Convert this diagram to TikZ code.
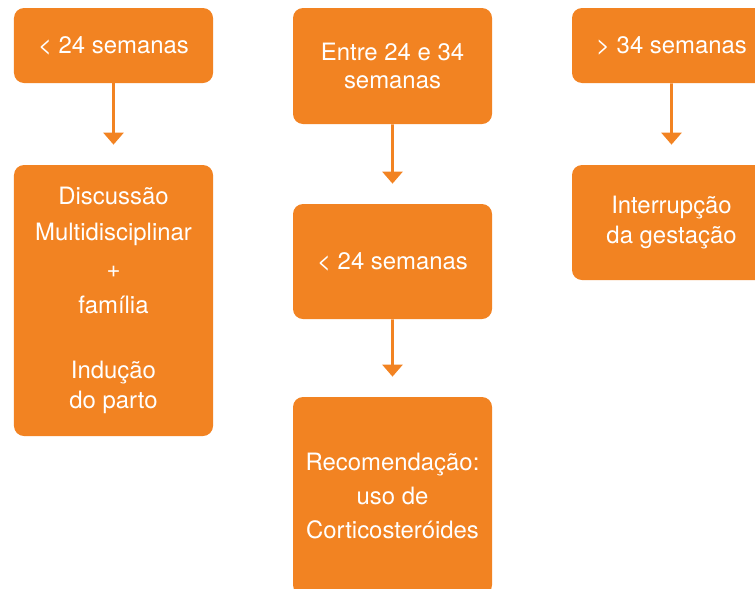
\documentclass[tikz,border=0pt]{standalone}
\usepackage{fontspec}
\setmainfont{TeX Gyre Heros}
\usetikzlibrary{arrows.meta}
\definecolor{laranja}{RGB}{242,131,34}

\begin{document}
\begin{tikzpicture}[scale=0.2]
	\tikzstyle{every node}+=[inner sep=0pt]
	\tikzstyle{etapa}=[fill=laranja, rounded corners=0.2cm, text=white, minimum width=3.98cm, align=center, font=\fontsize{13.6}{20.6}\selectfont]
	\tikzstyle{seta}=[laranja, line width=1.5pt, -{Triangle[width=0.4cm,length=0.24cm]}, shorten >=0.4cm]
	\clip (0,0) rectangle (75.5,-58.8);
	\node [etapa, minimum height=1.5cm] (menor) at (11.35,-4.55) {< 24 semanas};
	\node [etapa, minimum height=5.42cm] (discussao) at (11.35,-30.05) {Discussão\\Multidisciplinar\\+\\família\\[16.5pt]Indução\\[-3.4pt]do parto};
	\node [etapa, minimum height=2.32cm, font=\fontsize{13.6}{16.4}\selectfont] (entre) at (39.25,-6.6) {Entre 24 e 34\\semanas};
	\node [etapa, minimum height=2.3cm] (menorb) at (39.25,-26.15) {< 24 semanas};
	\node [etapa, minimum height=3.96cm, font=\fontsize{13.6}{19.6}\selectfont] (recom) at (39.25,-49.6) {Recomendação:\\uso de\\Corticosteróides};
	\node [etapa, minimum height=1.5cm] (maior) at (67.15,-4.55) {> 34 semanas};
	\node [etapa, minimum height=2.3cm, font=\fontsize{13.6}{17}\selectfont] (interrup) at (67.15,-22.25) {Interrupção\\da gestação};
	\draw [seta] (menor) -- (discussao);
	\draw [seta] (entre) -- (menorb);
	\draw [seta] (menorb) -- (recom);
	\draw [seta] (maior) -- (interrup);
\end{tikzpicture}
\end{document}
